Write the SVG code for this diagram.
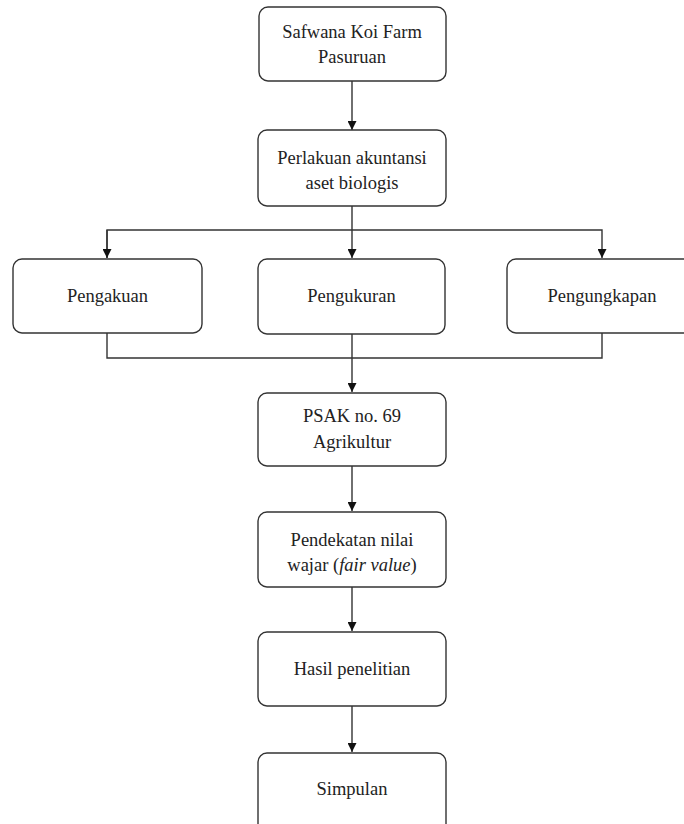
<svg xmlns="http://www.w3.org/2000/svg" width="684" height="824" viewBox="0 0 684 824">
<style>
.box{fill:#fff;stroke:#333;stroke-width:1.4}
.t{font-family:"Liberation Serif","Times New Roman",serif;font-size:18.5px;fill:#222;text-anchor:middle}
.ln{fill:none;stroke:#333;stroke-width:1.4}
</style>
<defs>
<marker id="ah" viewBox="0 0 10 10" refX="10" refY="5" markerWidth="9" markerHeight="9" markerUnits="userSpaceOnUse" orient="auto">
<path d="M0,0 L10,5 L0,10 z" fill="#111"/>
</marker>
</defs>
<g id="connectors">
<line class="ln" x1="352" y1="81" x2="352" y2="130" marker-end="url(#ah)"/>
<line class="ln" x1="352" y1="206" x2="352" y2="258" marker-end="url(#ah)"/>
<polyline class="ln" points="107,258 107,230 602,230 602,258" marker-end="url(#ah)"/>
<line class="ln" x1="107" y1="230" x2="107" y2="258" marker-end="url(#ah)"/>
<polyline class="ln" points="107,333 107,358 602,358 602,333"/>
<line class="ln" x1="352" y1="334" x2="352" y2="392" marker-end="url(#ah)"/>
<line class="ln" x1="352" y1="466" x2="352" y2="511" marker-end="url(#ah)"/>
<line class="ln" x1="352" y1="587" x2="352" y2="631" marker-end="url(#ah)"/>
<line class="ln" x1="352" y1="706" x2="352" y2="752" marker-end="url(#ah)"/>
</g>
<g id="n1"><rect class="box" x="259" y="7" width="187" height="74" rx="9"/>
<text class="t" x="352" y="38">Safwana Koi Farm</text><text class="t" x="352" y="63">Pasuruan</text></g>
<g id="n2"><rect class="box" x="258" y="130" width="188" height="76" rx="9"/>
<text class="t" x="352" y="164">Perlakuan akuntansi</text><text class="t" x="352" y="189">aset biologis</text></g>
<g id="n3"><rect class="box" x="13" y="259" width="189" height="74" rx="9"/>
<text class="t" x="107.5" y="302">Pengakuan</text></g>
<g id="n4"><rect class="box" x="258" y="259" width="187" height="75" rx="9"/>
<text class="t" x="351.5" y="302">Pengukuran</text></g>
<g id="n5"><rect class="box" x="507" y="259" width="190" height="74" rx="9"/>
<text class="t" x="602" y="302">Pengungkapan</text></g>
<g id="n6"><rect class="box" x="258" y="393" width="188" height="73" rx="9"/>
<text class="t" x="352" y="422">PSAK no. 69</text><text class="t" x="352" y="448">Agrikultur</text></g>
<g id="n7"><rect class="box" x="258" y="512" width="188" height="75" rx="9"/>
<text class="t" x="352" y="546">Pendekatan nilai</text><text class="t" x="352" y="571">wajar (<tspan font-style="italic">fair value</tspan>)</text></g>
<g id="n8"><rect class="box" x="258" y="632" width="188" height="74" rx="9"/>
<text class="t" x="352" y="675">Hasil penelitian</text></g>
<g id="n9"><rect class="box" x="258" y="753" width="188" height="80" rx="9"/>
<text class="t" x="352" y="795">Simpulan</text></g>
</svg>
